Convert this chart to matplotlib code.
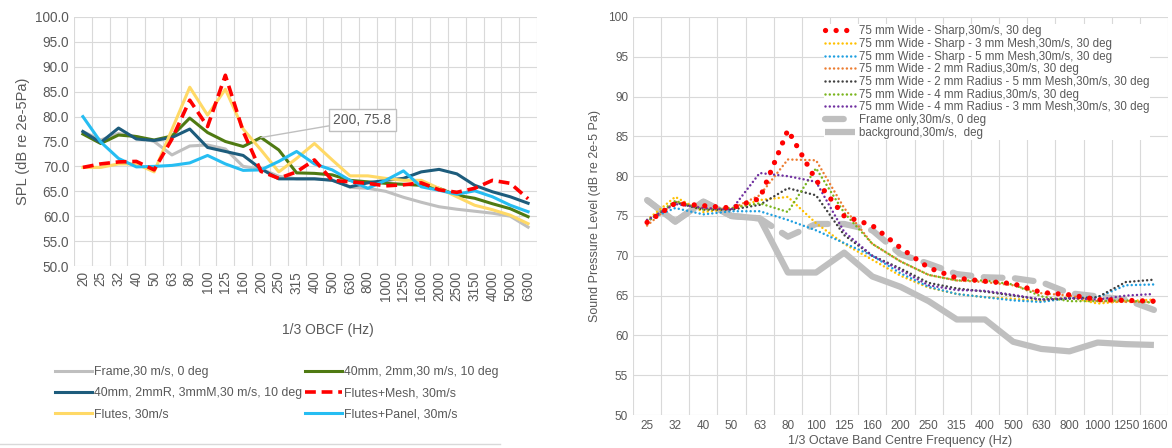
import matplotlib
matplotlib.use("Agg")
import matplotlib.pyplot as plt
import numpy as np

plt.rcParams['font.family'] = ['Liberation Sans', 'DejaVu Sans']

# ---- left chart data ----
left_freqs = ['20', '25', '32', '40', '50', '63', '80', '100', '125', '160', '200', '250', '315',
              '400', '500', '630', '800', '1000', '1250', '1600', '2000', '2500', '3150', '4000',
              '5000', '6300']
frame_l = [77.0, 75.3, 76.6, 76.0, 75.0, 72.3, 74.1, 74.3, 73.5, 70.0, 69.5, 68.0, 67.5,
           67.5, 67.3, 65.8, 65.6, 65.0, 63.8, 62.8, 61.9, 61.4, 61.0, 60.6, 60.0, 57.8]
m40_2mm = [76.5, 74.6, 76.3, 76.0, 75.3, 76.1, 79.7, 76.8, 75.0, 74.0, 75.8, 73.3, 68.7,
           68.6, 68.3, 67.2, 66.9, 66.6, 66.4, 66.2, 65.6, 64.2, 63.6, 62.5, 61.5, 59.9]
m40_2mmR = [77.0, 74.8, 77.7, 75.5, 75.2, 75.8, 77.5, 73.8, 73.0, 72.2, 69.5, 67.5, 67.5,
            67.5, 67.2, 65.9, 66.7, 67.2, 67.6, 68.9, 69.4, 68.5, 66.2, 64.9, 63.9, 62.6]
flutes_mesh = [69.8, 70.5, 70.9, 71.0, 69.3, 75.5, 83.3, 78.0, 88.3, 77.0, 69.0, 67.6, 68.9,
               71.3, 67.2, 66.9, 66.6, 66.1, 66.3, 66.7, 65.3, 64.8, 65.6, 67.2, 66.6, 63.5]
flutes = [69.8, 69.8, 70.5, 70.5, 68.9, 77.4, 85.9, 80.3, 85.5, 77.5, 73.3, 68.9, 71.6,
          74.6, 71.3, 68.1, 68.1, 67.6, 67.2, 67.2, 65.6, 63.9, 62.2, 61.3, 60.2, 58.5]
flutes_panel = [80.0, 74.9, 71.6, 69.9, 70.0, 70.2, 70.7, 72.2, 70.5, 69.2, 69.3, 71.0, 73.0,
                70.5, 69.3, 67.2, 65.6, 67.2, 69.1, 65.9, 65.2, 64.4, 65.1, 63.9, 62.2, 60.9]

# ---- right chart data ----
right_freqs = ['25', '32', '40', '50', '63', '80', '100', '125', '160', '200', '250', '315',
               '400', '500', '630', '800', '1000', '1250', '1600']
sharp = [74.2, 76.6, 76.3, 76.0, 77.2, 85.8, 79.5, 75.0, 73.8, 71.0, 68.5, 67.2, 66.8, 66.5,
         65.4, 65.1, 64.5, 64.4, 64.3]
sharp_3mesh = [74.5, 77.4, 75.5, 75.9, 77.0, 77.4, 74.1, 71.5, 69.5, 67.5, 66.0, 65.2, 64.8,
               64.6, 64.3, 64.8, 64.0, 64.3, 64.5]
sharp_5mesh = [74.5, 76.0, 75.2, 75.6, 75.6, 74.5, 73.2, 71.6, 70.0, 67.8, 66.1, 65.2, 64.8,
               64.4, 64.2, 64.7, 64.8, 66.3, 66.4]
rad2 = [73.8, 76.8, 76.0, 75.9, 77.6, 82.1, 82.0, 76.0, 71.5, 69.3, 67.6, 66.9, 66.7, 66.3,
        65.3, 65.0, 64.3, 64.2, 64.2]
rad2_5mesh = [74.3, 76.7, 75.8, 75.8, 76.4, 78.5, 77.6, 72.6, 70.0, 68.4, 66.6, 65.9, 65.5,
              65.0, 64.5, 64.6, 64.8, 66.7, 67.0]
rad4 = [74.3, 76.9, 75.8, 76.0, 76.6, 75.5, 81.0, 75.4, 71.5, 69.3, 67.6, 66.9, 66.9, 66.4,
        64.9, 64.3, 64.3, 64.4, 64.1]
rad4_3mesh = [74.5, 76.5, 76.0, 75.8, 80.4, 80.0, 79.3, 73.0, 70.0, 68.2, 66.3, 65.7, 65.6,
              65.1, 64.5, 64.7, 64.5, 65.0, 65.2]
frame_r = [77.0, 74.3, 76.8, 75.0, 74.7, 72.4, 74.0, 74.0, 73.2, 70.2, 69.0, 67.7, 67.3, 67.2,
           66.7, 65.3, 64.9, 64.5, 63.2]
background = [77.0, 74.3, 76.8, 75.0, 74.7, 67.9, 67.9, 70.4, 67.4, 66.1, 64.3, 62.0, 62.0,
              59.2, 58.3, 58.0, 59.1, 58.9, 58.8]

TXT = '#595959'
GRID = '#D9D9D9'


def style_axes(ax, n, labels, fmt, size, rot):
    x = np.arange(n)
    ax.set_xlim(-0.5, n - 0.5)
    ax.set_ylim(50, 100)
    ax.set_yticks(np.arange(50, 101, 5))
    ax.set_yticklabels([fmt % v for v in np.arange(50, 101, 5)], fontsize=size, color=TXT)
    ax.set_xticks(x)
    ax.set_xticklabels(labels, rotation=rot, fontsize=size, color=TXT)
    ax.set_xticks(np.arange(n + 1) - 0.5, minor=True)
    ax.grid(True, which='minor', axis='x', color=GRID, lw=0.8)
    ax.grid(True, which='major', axis='y', color=GRID, lw=0.8)
    ax.tick_params(which='both', length=0)
    for s in ax.spines.values():
        s.set_visible(False)
    ax.set_axisbelow(True)
    return x


fig = plt.figure(figsize=(11.72, 4.48), dpi=100)

# ---------------- left chart ----------------
axl = fig.add_axes([74 / 1172, 182 / 448, 463 / 1172, 249 / 448])
xl = style_axes(axl, len(left_freqs), left_freqs, '%.1f', 9.8, 90)
axl.plot(xl, frame_l, color='#BFBFBF', lw=2.2, label='Frame,30 m/s, 0 deg')
axl.plot(xl, m40_2mm, color='#4F7A12', lw=2.2, label='40mm, 2mm,30 m/s, 10 deg')
axl.plot(xl, m40_2mmR, color='#1D5C7C', lw=2.2, label='40mm, 2mmR, 3mmM,30 m/s, 10 deg')
axl.plot(xl, flutes, color='#FFD966', lw=2.2, label='Flutes, 30m/s')
axl.plot(xl, flutes_panel, color='#26BDF2', lw=2.2, label='Flutes+Panel, 30m/s')
axl.plot(xl, flutes_mesh, color='#FF0000', lw=2.6, ls=(0, (3, 1.6)),
         label='Flutes+Mesh, 30m/s')
axl.set_ylabel('SPL (dB re 2e-5Pa)', fontsize=10.5, color=TXT, labelpad=4)
axl.annotate('200, 75.8', xy=(10, m40_2mm[10]), xytext=(15.7, 79.3), fontsize=10, color=TXT,
             ha='center', va='center',
             bbox=dict(boxstyle='square,pad=0.3', fc='white', ec='#BFBFBF', lw=1),
             arrowprops=dict(arrowstyle='-', color='#BFBFBF', lw=1, shrinkA=0, shrinkB=0))
fig.text(328 / 1172, 1 - 330 / 448, '1/3 OBCF (Hz)', ha='center', va='center',
         fontsize=10, color=TXT)

h, lab = axl.get_legend_handles_labels()
order = [0, 2, 3, 1, 5, 4]
fig.legend([h[i] for i in order], [lab[i] for i in order], ncol=2, frameon=False,
           loc='upper left', bbox_to_anchor=(44 / 1172, 1 - 355 / 448), fontsize=8.9,
           labelcolor=TXT, handlelength=3.0, handletextpad=0.15, columnspacing=0.2,
           labelspacing=0.75)
fig.add_artist(plt.Line2D([0, 500 / 1172], [1 - 444 / 448] * 2, color='#D9D9D9', lw=1))

# ---------------- right chart ----------------
axr = fig.add_axes([633 / 1172, 33 / 448, 535 / 1172, 398 / 448])
xr = style_axes(axr, len(right_freqs), right_freqs, '%d', 8.5, 0)
axr.plot(xr, background, color='#BFBFBF', lw=4.5, solid_capstyle='butt', zorder=2)
axr.plot(xr, frame_r, color='#BFBFBF', lw=4.5, ls=(0, (3, 2)), dash_capstyle='round', zorder=2)
dot = (0, (0.01, 1.7))
axr.plot(xr, sharp_3mesh, color='#FFC000', lw=1.8, ls=dot, dash_capstyle='round', zorder=3)
axr.plot(xr, sharp_5mesh, color='#1F9FE0', lw=1.8, ls=dot, dash_capstyle='round', zorder=3)
axr.plot(xr, rad2, color='#ED7D31', lw=1.8, ls=dot, dash_capstyle='round', zorder=3)
axr.plot(xr, rad2_5mesh, color='#404040', lw=1.8, ls=dot, dash_capstyle='round', zorder=3)
axr.plot(xr, rad4, color='#7AB51D', lw=1.8, ls=dot, dash_capstyle='round', zorder=3)
axr.plot(xr, rad4_3mesh, color='#7030A0', lw=1.8, ls=dot, dash_capstyle='round', zorder=3)
axr.plot(xr, sharp, color='#FF0000', lw=3.8, ls=(0, (0.01, 2.0)), dash_capstyle='round', zorder=4)

r_lines = axr.get_lines()
r_order = [8, 2, 3, 4, 5, 6, 7, 1, 0]
r_labels = ['75 mm Wide - Sharp,30m/s, 30 deg',
            '75 mm Wide - Sharp - 3 mm Mesh,30m/s, 30 deg',
            '75 mm Wide - Sharp - 5 mm Mesh,30m/s, 30 deg',
            '75 mm Wide - 2 mm Radius,30m/s, 30 deg',
            '75 mm Wide - 2 mm Radius - 5 mm Mesh,30m/s, 30 deg',
            '75 mm Wide - 4 mm Radius,30m/s, 30 deg',
            '75 mm Wide - 4 mm Radius - 3 mm Mesh,30m/s, 30 deg',
            'Frame only,30m/s, 0 deg',
            'background,30m/s,  deg']
axr.legend([r_lines[i] for i in r_order], r_labels, loc='upper left',
           bbox_to_anchor=(824 / 1172, 1 - 24 / 448), bbox_transform=fig.transFigure,
           fontsize=8.3, labelcolor=TXT, frameon=True, framealpha=1, edgecolor='none',
           fancybox=False, handlelength=2.6, handletextpad=0.3, labelspacing=0.06,
           borderpad=0.1, borderaxespad=0)
axr.set_ylabel('Sound Pressure Level (dB re 2e-5 Pa)', fontsize=9, color=TXT, labelpad=5)
axr.set_xlabel('1/3 Octave Band Centre Frequency (Hz)', fontsize=9, color=TXT, labelpad=2)

fig.savefig('out.png', dpi=100)
